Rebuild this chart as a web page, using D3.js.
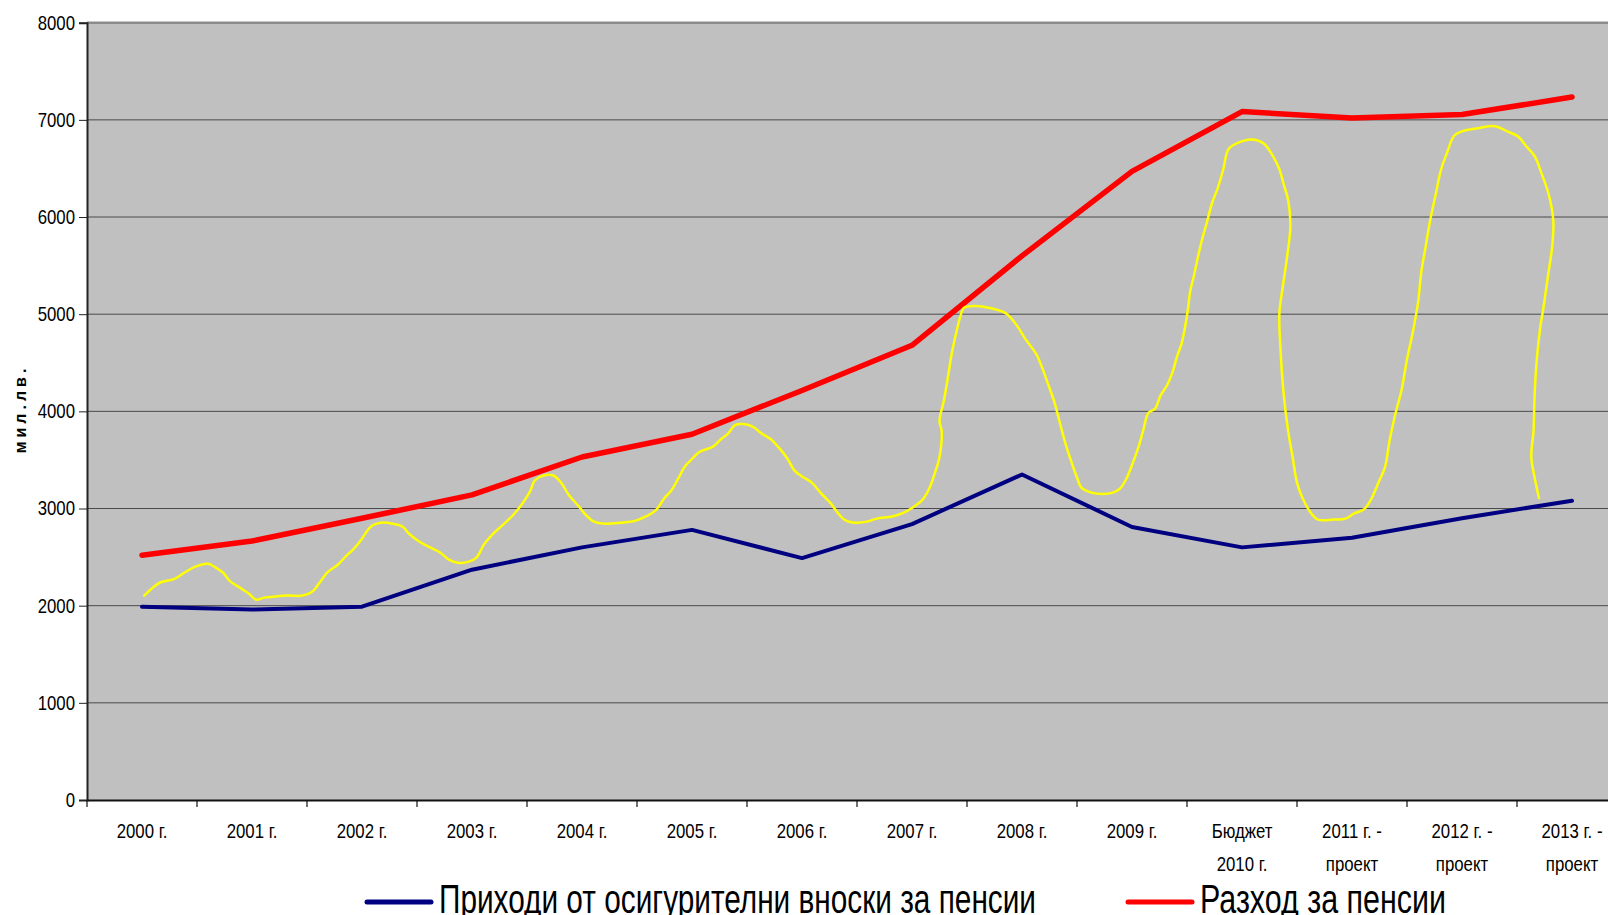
<!DOCTYPE html>
<html>
<head>
<meta charset="utf-8">
<script src="https://cdn.jsdelivr.net/npm/d3@7/dist/d3.min.js"></script>
<style>
  body { margin: 0; background: #fff; overflow: hidden; }
  text { font-family: "Liberation Sans", Arial, sans-serif; }
</style>
</head>
<body>
<script>
const width = 1608
const height = 915

// categories (second line after "|")
const categories = ["2000 г.", "2001 г.", "2002 г.", "2003 г.", "2004 г.", "2005 г.", "2006 г.",
    "2007 г.", "2008 г.", "2009 г.", "Бюджет|2010 г.", "2011 г. -|проект", "2012 г. -|проект", "2013 г. -|проект"];

// revenues from pension contributions
const revenues = [1990, 1960, 1990, 2370, 2600, 2780, 2490, 2840, 3350, 2810, 2600, 2700, 2900, 3080];
// pension expenditure
const expenses = [2520, 2665, 2900, 3140, 3530, 3765, 4215, 4680, 5600, 6470, 7085, 7020, 7055, 7235];

const yTicks = [0, 1000, 2000, 3000, 4000, 5000, 6000, 7000, 8000];

// hand drawn yellow line: position in category units and value
const yellowPos = [0.02, 0.10, 0.17, 0.29, 0.38, 0.48, 0.60, 0.66, 0.74, 0.80, 0.90, 0.97, 1.04, 1.11, 1.20, 1.32, 1.46, 1.55, 1.61, 1.69,
    1.78, 1.85, 1.92, 1.99, 2.04, 2.09, 2.17, 2.28, 2.37, 2.43, 2.53, 2.62, 2.71, 2.79, 2.87, 2.97, 3.04, 3.11, 3.18, 3.27,
    3.37, 3.46, 3.53, 3.57, 3.65, 3.74, 3.81, 3.88, 3.97, 4.04, 4.11, 4.21, 4.35, 4.49, 4.58, 4.67, 4.75, 4.81, 4.88, 4.93,
    5.00, 5.07, 5.19, 5.26, 5.33, 5.39, 5.47, 5.56, 5.63, 5.72, 5.79, 5.87, 5.93, 6.00, 6.09, 6.17, 6.26, 6.33, 6.40, 6.49,
    6.59, 6.68, 6.82, 6.91, 7.01, 7.10, 7.16, 7.21, 7.25, 7.27, 7.25, 7.29, 7.33, 7.36, 7.40, 7.44, 7.47, 7.57, 7.71, 7.85,
    7.94, 8.03, 8.13, 8.19, 8.24, 8.29, 8.34, 8.39, 8.45, 8.50, 8.54, 8.64, 8.73, 8.82, 8.89, 8.95, 9.01, 9.06, 9.10, 9.15,
    9.21, 9.26, 9.32, 9.37, 9.41, 9.45, 9.48, 9.51, 9.53, 9.56, 9.60, 9.64, 9.68, 9.73, 9.78, 9.83, 9.88, 9.99, 10.10, 10.20,
    10.27, 10.34, 10.38, 10.42, 10.44, 10.41, 10.37, 10.34, 10.35, 10.38, 10.42, 10.46, 10.50, 10.55, 10.63, 10.69, 10.83, 10.94, 11.02, 11.11,
    11.18, 11.24, 11.30, 11.34, 11.39, 11.45, 11.50, 11.55, 11.60, 11.63, 11.67, 11.71, 11.76, 11.81, 11.86, 11.93, 12.00, 12.14, 12.30, 12.41,
    12.51, 12.58, 12.66, 12.72, 12.79, 12.83, 12.82, 12.78, 12.74, 12.71, 12.68, 12.66, 12.65, 12.63, 12.66, 12.70];
const yellowVal = [2104, 2188, 2241, 2273, 2336, 2400, 2431, 2400, 2336, 2252, 2178, 2125, 2061, 2083, 2093, 2104, 2104, 2146, 2230, 2347,
    2421, 2505, 2579, 2674, 2759, 2822, 2854, 2844, 2812, 2738, 2653, 2600, 2548, 2474, 2442, 2453, 2495, 2632, 2727, 2822,
    2928, 3055, 3182, 3288, 3340, 3340, 3266, 3140, 3023, 2928, 2865, 2844, 2854, 2875, 2918, 2981, 3108, 3182, 3319, 3425,
    3510, 3584, 3637, 3710, 3774, 3858, 3869, 3837, 3774, 3710, 3626, 3510, 3393, 3330, 3266, 3161, 3055, 2949, 2875, 2854,
    2865, 2896, 2918, 2949, 3013, 3097, 3214, 3372, 3531, 3795, 3901, 4112, 4376, 4588, 4799, 4979, 5064, 5085, 5064, 5011,
    4905, 4746, 4588, 4429, 4271, 4112, 3901, 3689, 3478, 3319, 3214, 3161, 3150, 3161, 3203, 3309, 3478, 3637, 3795, 3985,
    4028, 4165, 4271, 4408, 4567, 4694, 4852, 5064, 5243, 5381, 5592, 5782, 5941, 6152, 6300, 6491, 6702, 6776, 6797, 6755,
    6649, 6491, 6332, 6173, 5909, 5592, 5275, 5011, 4641, 4165, 3795, 3531, 3266, 3108, 2949, 2886, 2886, 2896, 2949, 2992,
    3108, 3266, 3425, 3689, 3954, 4218, 4535, 4799, 5116, 5434, 5698, 5962, 6226, 6491, 6649, 6839, 6882, 6913, 6935, 6882,
    6829, 6734, 6628, 6459, 6226, 5962, 5698, 5381, 5064, 4852, 4535, 4165, 3795, 3531, 3319, 3108];

const legendNames = ["Приходи от осигурителни вноски за пенсии", "Разход за пенсии"];

const margin = {left: 87, top: 22.7, bottom: 115};
const plotRight = margin.left + categories.length * 110;
const plotBottom = height - margin.bottom;
const narrow = 0.84;  // emulate the condensed font

const svg = d3.select("body").append("svg")
    .attr("width", width)
    .attr("height", height);

const x = d3.scaleBand()
    .domain(categories)
    .range([margin.left, plotRight]);

const y = d3.scaleLinear()
    .domain([0, 8000])
    .range([plotBottom, margin.top]);

// continuous x for the hand-drawn line
const xPos = d3.scaleLinear()
    .domain([-0.5, categories.length - 0.5])
    .range([margin.left, plotRight]);

// plot background
svg.append("rect")
    .attr("x", margin.left)
    .attr("y", margin.top)
    .attr("width", plotRight - margin.left)
    .attr("height", plotBottom - margin.top)
    .attr("fill", "#c0c0c0");

// gridlines
svg.selectAll(".grid")
    .data(yTicks.slice(1, -1))
    .enter()
    .append("line")
    .attr("x1", margin.left)
    .attr("x2", plotRight)
    .attr("y1", d => y(d))
    .attr("y2", d => y(d))
    .attr("stroke", "#4a4a4a")
    .attr("stroke-width", 1);

svg.append("line")
    .attr("x1", margin.left)
    .attr("x2", plotRight)
    .attr("y1", y(8000))
    .attr("y2", y(8000))
    .attr("stroke", "#8c8c8c")
    .attr("stroke-width", 2.5);

// y axis
const yAxis = d3.axisLeft(y)
    .tickValues(yTicks)
    .tickSize(8)
    .tickFormat(d3.format("d"));

const gy = svg.append("g")
    .attr("transform", `translate(${margin.left},0)`)
    .call(yAxis);
gy.select(".domain").attr("stroke", "#222").attr("stroke-width", 2);
gy.selectAll(".tick line").attr("stroke", "#222");
gy.selectAll("text")
    .attr("font-size", 20)
    .attr("fill", "#000")
    .attr("x", -12 / narrow)
    .attr("transform", `scale(${narrow},1)`);

// x axis
const xAxis = d3.axisBottom(x).tickSize(0).tickFormat("");
const gx = svg.append("g")
    .attr("transform", `translate(0,${plotBottom})`)
    .call(xAxis);
gx.select(".domain").attr("stroke", "#111").attr("stroke-width", 2);

// tick marks at band boundaries
svg.selectAll(".xtick")
    .data(categories)
    .enter()
    .append("line")
    .attr("x1", d => x(d))
    .attr("x2", d => x(d))
    .attr("y1", plotBottom)
    .attr("y2", plotBottom + 7)
    .attr("stroke", "#111")
    .attr("stroke-width", 1.2);

const xl = svg.selectAll(".xlab")
    .data(categories)
    .enter()
    .append("text")
    .attr("transform", d => `translate(${x(d) + x.bandwidth() / 2},0) scale(${narrow},1)`)
    .attr("text-anchor", "middle")
    .attr("font-size", 20)
    .attr("fill", "#000");

xl.each(function(d) {
    const parts = d.split("|");
    const t = d3.select(this);
    parts.forEach((p, i) => {
        t.append("tspan")
            .attr("x", 0)
            .attr("y", plotBottom + 38 + i * 33)
            .text(p);
    });
});

// y title
svg.append("text")
    .attr("transform", `translate(26,409) rotate(-90)`)
    .attr("text-anchor", "middle")
    .attr("font-size", 16)
    .attr("font-weight", "bold")
    .attr("letter-spacing", 4)
    .text("мил.лв.");

// lines
const line = d3.line()
    .x((d, i) => x(categories[i]) + x.bandwidth() / 2)
    .y(d => y(d));

svg.append("path")
    .datum(revenues)
    .attr("d", line)
    .attr("fill", "none")
    .attr("stroke", "#000080")
    .attr("stroke-width", 4)
    .attr("stroke-linejoin", "round")
    .attr("stroke-linecap", "round");

svg.append("path")
    .datum(expenses)
    .attr("d", line)
    .attr("fill", "none")
    .attr("stroke", "#ff0000")
    .attr("stroke-width", 5.5)
    .attr("stroke-linejoin", "round")
    .attr("stroke-linecap", "round");

const yellowLine = d3.line()
    .x((d, i) => xPos(yellowPos[i]))
    .y(d => y(d))
    .curve(d3.curveCatmullRom);

svg.append("path")
    .datum(yellowVal)
    .attr("d", yellowLine)
    .attr("fill", "none")
    .attr("stroke", "#ffff00")
    .attr("stroke-width", 2.5)
    .attr("stroke-linejoin", "round")
    .attr("stroke-linecap", "round");

// legend
const legend = [
    {name: legendNames[0], color: "#000080", x1: 367, x2: 431, tx: 439, tw: 597},
    {name: legendNames[1], color: "#ff0000", x1: 1128, x2: 1192, tx: 1200, tw: 246}
];

legend.forEach(l => {
    svg.append("line")
        .attr("x1", l.x1).attr("x2", l.x2)
        .attr("y1", 902).attr("y2", 902)
        .attr("stroke", l.color)
        .attr("stroke-width", 5)
        .attr("stroke-linecap", "round");
    svg.append("text")
        .attr("x", l.tx)
        .attr("y", 913)
        .attr("font-size", 40)
        .attr("textLength", l.tw)
        .attr("lengthAdjust", "spacingAndGlyphs")
        .text(l.name);
});
</script>
</body>
</html>
